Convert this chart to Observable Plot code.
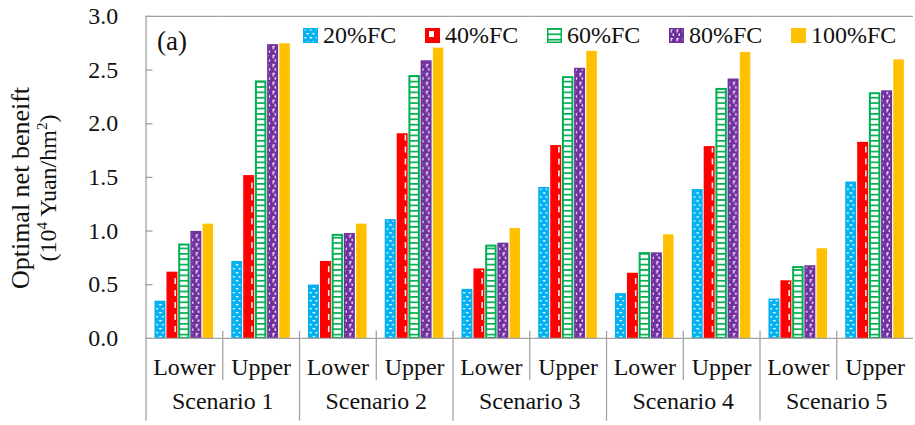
<!DOCTYPE html>
<html>
<head>
<meta charset="utf-8">
<script src="https://cdn.jsdelivr.net/npm/d3@7"></script>
<script src="https://cdn.jsdelivr.net/npm/@observablehq/plot@0.6"></script>
<style>
  html, body { margin: 0; padding: 0; background: #fff; overflow: hidden; }
  #wrap { position: relative; width: 915px; height: 425px; overflow: hidden; font-family: "Liberation Serif", "Times New Roman", serif; color: #111; }
  #wrap > svg.chart { position: absolute; left: 0; top: 0; display: block; }
  .ylabel { position: absolute; left: 34px; top: 188px; transform: translate(-50%, -50%) rotate(-90deg);
            white-space: nowrap; text-align: center; font-size: 26px; line-height: 27px; }
  .ylabel .l2 { font-size: 24px; }
  .ylabel sup { font-size: 15px; line-height: 0; vertical-align: 9px; }
  .panel { position: absolute; left: 157px; top: 28px; font-size: 27px; line-height: 1; }
  .legend { position: absolute; left: 303px; top: 22px; display: flex; font-size: 24px; line-height: 26px; }
  .legend .item { display: flex; align-items: center; width: 122px; }
  .legend svg { margin-right: 5px; flex: none; }
</style>
</head>
<body>
<svg width="0" height="0" style="position:absolute">
  <defs>
    <!-- 20%FC: blue with small white dashes -->
    <pattern id="pat20" patternUnits="userSpaceOnUse" width="6" height="8">
      <rect width="6" height="8" fill="#00B0F0"/>
      <rect x="0.6" y="1" width="2.6" height="1.4" fill="#fff"/>
      <rect x="3.4" y="5" width="2.2" height="1.4" fill="#fff"/>
    </pattern>
    <!-- 40%FC: red with white blocks -->
    <pattern id="pat40" patternUnits="userSpaceOnUse" width="12" height="12">
      <rect width="12" height="12" fill="#FF0000"/>
      <rect x="4" y="3" width="5" height="6" fill="#fff"/>
    </pattern>
    <!-- 60%FC: white with green rungs -->
    <pattern id="pat60" patternUnits="userSpaceOnUse" width="12" height="5.4">
      <rect width="12" height="5.4" fill="#fff"/>
      <rect width="12" height="1.7" fill="#00B050"/>
    </pattern>
    <!-- 80%FC: purple with white dashed wave -->
    <pattern id="pat80" patternUnits="userSpaceOnUse" width="6" height="9">
      <rect width="6" height="9" fill="#7030A0"/>
      <path d="M1.5 1h2.2v1.2h-1v2.3h-1.2z" fill="#fff"/>
      <rect x="3.6" y="5.6" width="1.4" height="2.2" fill="#fff"/>
    </pattern>
  </defs>
</svg>
<div id="wrap"></div>
<script>
// Categories
const scenarios = ["Scenario 1", "Scenario 2", "Scenario 3", "Scenario 4", "Scenario 5"];
const bounds = ["Lower", "Upper"];
const series = ["20%FC", "40%FC", "60%FC", "80%FC", "100%FC"];

// Optimal net benefit (10^4 Yuan/hm^2), ordered S1 Lower, S1 Upper, S2 Lower, ...
const fc20  = [0.34, 0.71, 0.49, 1.10, 0.45, 1.40, 0.41, 1.38, 0.36, 1.45];
const fc40  = [0.61, 1.51, 0.71, 1.90, 0.64, 1.79, 0.60, 1.78, 0.53, 1.82];
const fc60  = [0.87, 2.39, 0.96, 2.44, 0.86, 2.43, 0.79, 2.32, 0.66, 2.28];
const fc80  = [0.99, 2.73, 0.97, 2.58, 0.88, 2.51, 0.79, 2.41, 0.67, 2.30];
const fc100 = [1.06, 2.74, 1.06, 2.70, 1.02, 2.67, 0.96, 2.66, 0.83, 2.59];

// Y axis ticks
const yTicks = [0, 0.5, 1.0, 1.5, 2.0, 2.5, 3.0];

const seriesValues = [fc20, fc40, fc60, fc80, fc100];
const seriesStyle = [
  {fill: "url(#pat20)", stroke: "#00B0F0", strokeWidth: 1.5},
  {fill: "url(#pat40)", stroke: "#FF0000", strokeWidth: 1.5},
  {fill: "url(#pat60)", stroke: "#00B050", strokeWidth: 2},
  {fill: "url(#pat80)", stroke: "#7030A0", strokeWidth: 1.5},
  {fill: "#FFC000", stroke: "#FFC000", strokeWidth: 1}
];

const groupKeys = scenarios.flatMap(s => bounds.map(b => `${s}|${b}`));
const rows = series.flatMap((name, j) =>
  seriesValues[j].map((v, i) => ({group: groupKeys[i], series: name, value: v}))
);

const W = 918, H = 425, mTop = 16, mBottom = 86, mLeft = 143;
const innerH = H - mTop - mBottom;
const gray = "#a3a3a3";

// Separator lines below the axis; scenario boundaries reach further down
const separators = groupKeys.map((k, i) => Plot.frame({
  fx: () => k,
  anchor: "left",
  stroke: gray,
  strokeWidth: 1.3,
  insetTop: i === 0 ? 0 : innerH - 7,
  insetBottom: k.endsWith("Lower") ? -82 : -41
}));

const bars = series.map((name, j) => Plot.barY(rows.filter(d => d.series === name), {
  fx: "group", x: "series", y: "value",
  fill: seriesStyle[j].fill,
  stroke: seriesStyle[j].stroke,
  strokeWidth: seriesStyle[j].strokeWidth,
  insetLeft: 0.75, insetRight: 0.75
}));

const chart = Plot.plot({
  width: W, height: H,
  marginTop: mTop, marginBottom: mBottom, marginLeft: mLeft, marginRight: 0,
  style: {fontFamily: "'Liberation Serif', 'Times New Roman', serif", fontSize: "24px", color: "#111", background: "transparent", overflow: "visible"},
  fx: {domain: groupKeys, paddingInner: 0, paddingOuter: 0, label: null},
  x: {domain: series, paddingInner: 0.08, paddingOuter: 0.72, axis: null},
  y: {domain: [0, 3], label: null},
  marks: [
    Plot.ruleY([3], {stroke: gray, strokeWidth: 1.3}),
    ...bars,
    Plot.ruleY([0], {stroke: gray, strokeWidth: 1.3}),
    ...separators,
    Plot.axisY({ticks: yTicks, tickSize: 0, tickPadding: 28, tickFormat: d3.format(".1f"), label: null, fontSize: 24}),
    Plot.axisY({ticks: yTicks, tickSize: 7, dx: 7, tickFormat: () => "", label: null, stroke: gray, strokeWidth: 1.3}),
    Plot.axisFx({anchor: "bottom", tickSize: 0, tickPadding: 20, tickFormat: k => k.split("|")[1], label: null, fontSize: 24}),
    Plot.text(scenarios, {fx: s => `${s}|Lower`, text: d => d, frameAnchor: "bottom-right", textAnchor: "middle", dy: 71, fontSize: 24})
  ]
});
chart.classList.add("chart");

const wrap = document.getElementById("wrap");
wrap.appendChild(chart);

// Axis title
const ylab = document.createElement("div");
ylab.className = "ylabel";
ylab.innerHTML = "Optimal net beneift<br><span class=\"l2\">(10<sup>4</sup> Yuan/hm<sup>2</sup>)</span>";
wrap.appendChild(ylab);

// Panel tag
const panel = document.createElement("div");
panel.className = "panel";
panel.textContent = "(a)";
wrap.appendChild(panel);

// Legend
const legend = document.createElement("div");
legend.className = "legend";
series.forEach((name, j) => {
  const item = document.createElement("div");
  item.className = "item";
  const st = seriesStyle[j];
  item.innerHTML = `<svg width="15" height="15"><rect x="0.75" y="0.75" width="13.5" height="13.5" fill="${st.fill}" stroke="${st.stroke}" stroke-width="1.5"/></svg><span>${name}</span>`;
  legend.appendChild(item);
});
wrap.appendChild(legend);
</script>
</body>
</html>
